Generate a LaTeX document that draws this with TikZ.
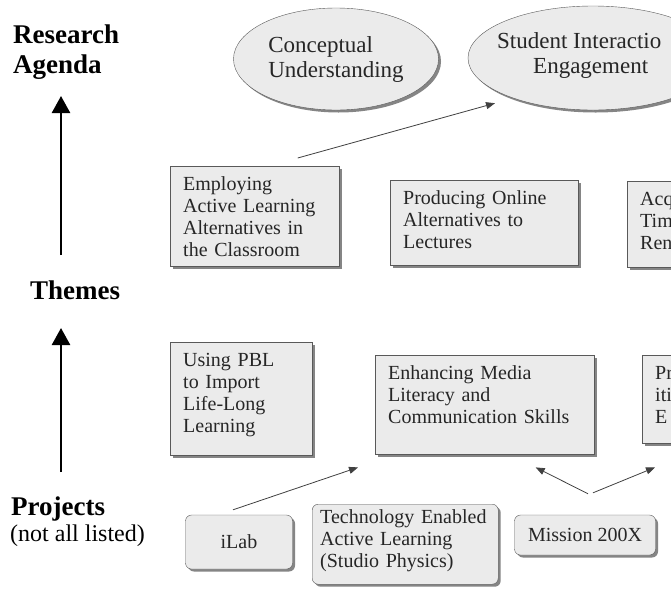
\documentclass[tikz,border=0pt]{standalone}
\usepackage{fontspec}
\setmainfont{Liberation Serif}
\usetikzlibrary{arrows.meta,shadows,shapes.geometric}

\begin{document}
\begin{tikzpicture}[x=1pt,y=-1pt,
  level/.style={font=\fontsize{27}{30}\selectfont\bfseries,inner sep=0pt,align=left},
  theme/.style={rectangle,draw=black!65,fill=black!8,
    drop shadow={shadow xshift=2.5pt,shadow yshift=-2.5pt,fill=black!60,opacity=0.8},
    anchor=north west,align=left,inner xsep=13pt,inner ysep=10pt,text height=14pt,
    text=black!85,font=\fontsize{20}{22}\selectfont},
  project/.style={theme,rounded corners=6pt},
  goal/.style={ellipse,draw=black!65,fill=black!8,
    drop shadow={shadow xshift=2.5pt,shadow yshift=-2.5pt,fill=black!60,opacity=0.8},
    text=black!85,font=\fontsize{23}{25}\selectfont,align=left},
  goaltext/.style={anchor=base west,inner sep=0pt,text=black!85,font=\fontsize{23}{25}\selectfont},
  lift/.style={line width=2.5pt,-{Triangle[width=18pt,length=17pt]}},
  link/.style={black!75,line width=0.8pt,-{Triangle[width=7pt,length=9pt]}}]
\useasboundingbox (0,0) rectangle (671,592);
\clip (0,0) rectangle (671,592);

% levels
\node[level,anchor=north west] (agenda) at (13,25) {Research\\Agenda};
\node[level,anchor=base west] (themes) at (30,299) {Themes};
\node[level,anchor=base west] (projects) at (11,515) {Projects};
\node[anchor=base west,inner sep=0pt,font=\fontsize{24}{26}\selectfont] (notall) at (10,541) {(not all listed)};
\coordinate (lift1) at (61,255);
\coordinate (lift2) at (61,96);
\coordinate (lift3) at (61,472);
\coordinate (lift4) at (61,328);
\draw[lift] (lift1) -- (lift2);
\draw[lift] (lift3) -- (lift4);

% research agenda
\node[goal,minimum width=205pt,minimum height=102pt] (concept) at (336,59) {Conceptual\\Understanding};
\node[goal,minimum width=250pt,minimum height=104pt] (engage) at (593,58) {};
\node[goaltext] (engage1) at (497,48) {Student Interactio};
\node[goaltext] (engage2) at (533,73) {Engagement};

% themes
\node[theme,text width=143pt,text depth=66pt] (employ) at (170,166) {Employing\\Active Learning\\Alternatives in\\the Classroom};
\node[theme,text width=162pt,text depth=51pt] (online) at (390,180) {Producing Online\\Alternatives to\\Lectures};
\node[theme,text width=150pt,text depth=52pt] (acq) at (627,181) {Acq\\Tim\\Ren};
\node[theme,text width=116pt,text depth=79pt] (pbl) at (170,342) {Using PBL\\to Import\\Life-Long\\Learning};
\node[theme,text width=193pt,text depth=65pt] (enhance) at (375,355) {Enhancing Media\\Literacy and\\Communication Skills};
\node[theme,text width=150pt,text depth=54pt] (pr) at (642,355) {Pr\\iti\\E};

% projects
\node[project,anchor=center,minimum width=107pt,minimum height=54pt] (ilab) at (239,542) {iLab};
\node[project,text width=170pt,inner xsep=8pt,inner ysep=6pt,text height=13pt,text depth=55pt] (studio) at (312,504) {Technology Enabled\\Active Learning\\(Studio Physics)};
\node[project,anchor=center,minimum width=141pt,minimum height=40pt] (mission) at (585,535) {Mission 200X};

% links
\draw[link] ([xshift=43pt,yshift=8pt]employ.north) -- ([xshift=-98pt,yshift=7pt]engage.south);
\draw[link] ([xshift=-6pt,yshift=5pt]ilab.north) -- ([xshift=-17pt,yshift=-13pt]enhance.south west);
\draw[link] ([xshift=3pt,yshift=21pt]mission.north) -- ([xshift=51pt,yshift=-13pt]enhance.south);
\draw[link] ([xshift=8pt,yshift=22pt]mission.north) -- ([xshift=13pt,yshift=-24pt]pr.south west);
\end{tikzpicture}
\end{document}
